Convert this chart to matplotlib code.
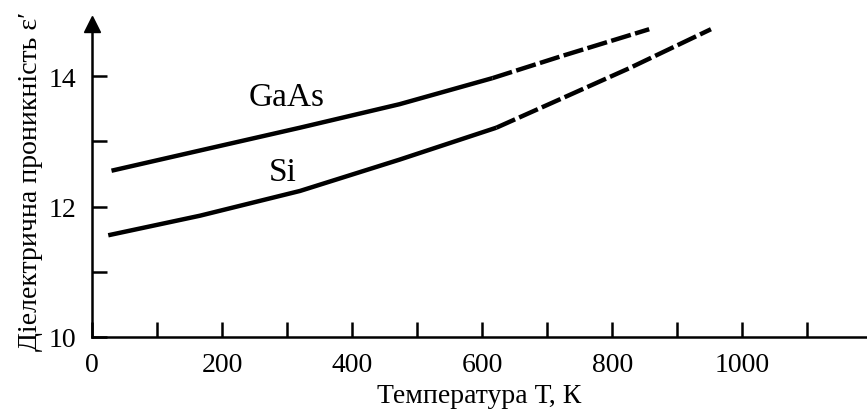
import matplotlib
matplotlib.use("Agg")
import matplotlib.pyplot as plt
from matplotlib.ticker import MultipleLocator, FixedLocator

plt.rcParams['font.family'] = ['Liberation Serif', 'DejaVu Serif']

# дані
t_gaas = [30, 166, 320, 473, 616]
eps_gaas = [12.55, 12.86, 13.21, 13.57, 13.97]
t_gaas_ext = [616, 723, 857]
eps_gaas_ext = [13.97, 14.31, 14.72]

t_si = [25, 166, 320, 473, 622]
eps_si = [11.56, 11.86, 12.24, 12.72, 13.21]
t_si_ext = [622, 723, 826, 952]
eps_si_ext = [13.21, 13.66, 14.12, 14.72]

x_ticks = [0, 200, 400, 600, 800, 1000]
y_ticks = [10, 12, 14]

fig = plt.figure(figsize=(8.67, 4.10), dpi=100)
ax = fig.add_axes([92 / 867, 72 / 410, 775 / 867, 313 / 410])

# криві
ax.plot(t_gaas, eps_gaas, color='black', lw=3.2, solid_capstyle='butt', solid_joinstyle='round')
ax.plot(t_gaas_ext, eps_gaas_ext, color='black', lw=3.2, dashes=(4.6, 1.0))
ax.plot(t_si, eps_si, color='black', lw=3.2, solid_capstyle='butt', solid_joinstyle='round')
ax.plot(t_si_ext, eps_si_ext, color='black', lw=3.2, dashes=(4.6, 1.0))

ax.text(300, 13.69, 'GaAs', fontsize=24, ha='center', va='center')
ax.text(293, 12.53, 'Si', fontsize=24, ha='center', va='center')

ax.set_xlim(0, 1192)
ax.set_ylim(10, 14.8)

# осі зі стрілками
for side in ['top', 'right']:
    ax.spines[side].set_visible(False)
for side in ['left', 'bottom']:
    ax.spines[side].set_linewidth(1.8)
ax.plot(0, 1, '^k', ms=11, transform=ax.get_xaxis_transform(), clip_on=False)
ax.plot(1, 0, '>k', ms=11, transform=ax.get_yaxis_transform(), clip_on=False)

ax.xaxis.set_major_locator(FixedLocator(x_ticks))
ax.xaxis.set_minor_locator(MultipleLocator(100))
ax.yaxis.set_major_locator(FixedLocator(y_ticks))
ax.yaxis.set_minor_locator(MultipleLocator(1))
ax.tick_params(which='both', direction='in', length=11, width=1.8, labelsize=20)
ax.tick_params(axis='x', pad=11)
ax.tick_params(axis='y', pad=11)

ax.set_xlabel('Температура Т, К', fontsize=20, labelpad=4)
ax.set_ylabel('Діелектрична проникність ε′', fontsize=20, labelpad=4)

plt.savefig('out.png', dpi=100)
plt.close()
